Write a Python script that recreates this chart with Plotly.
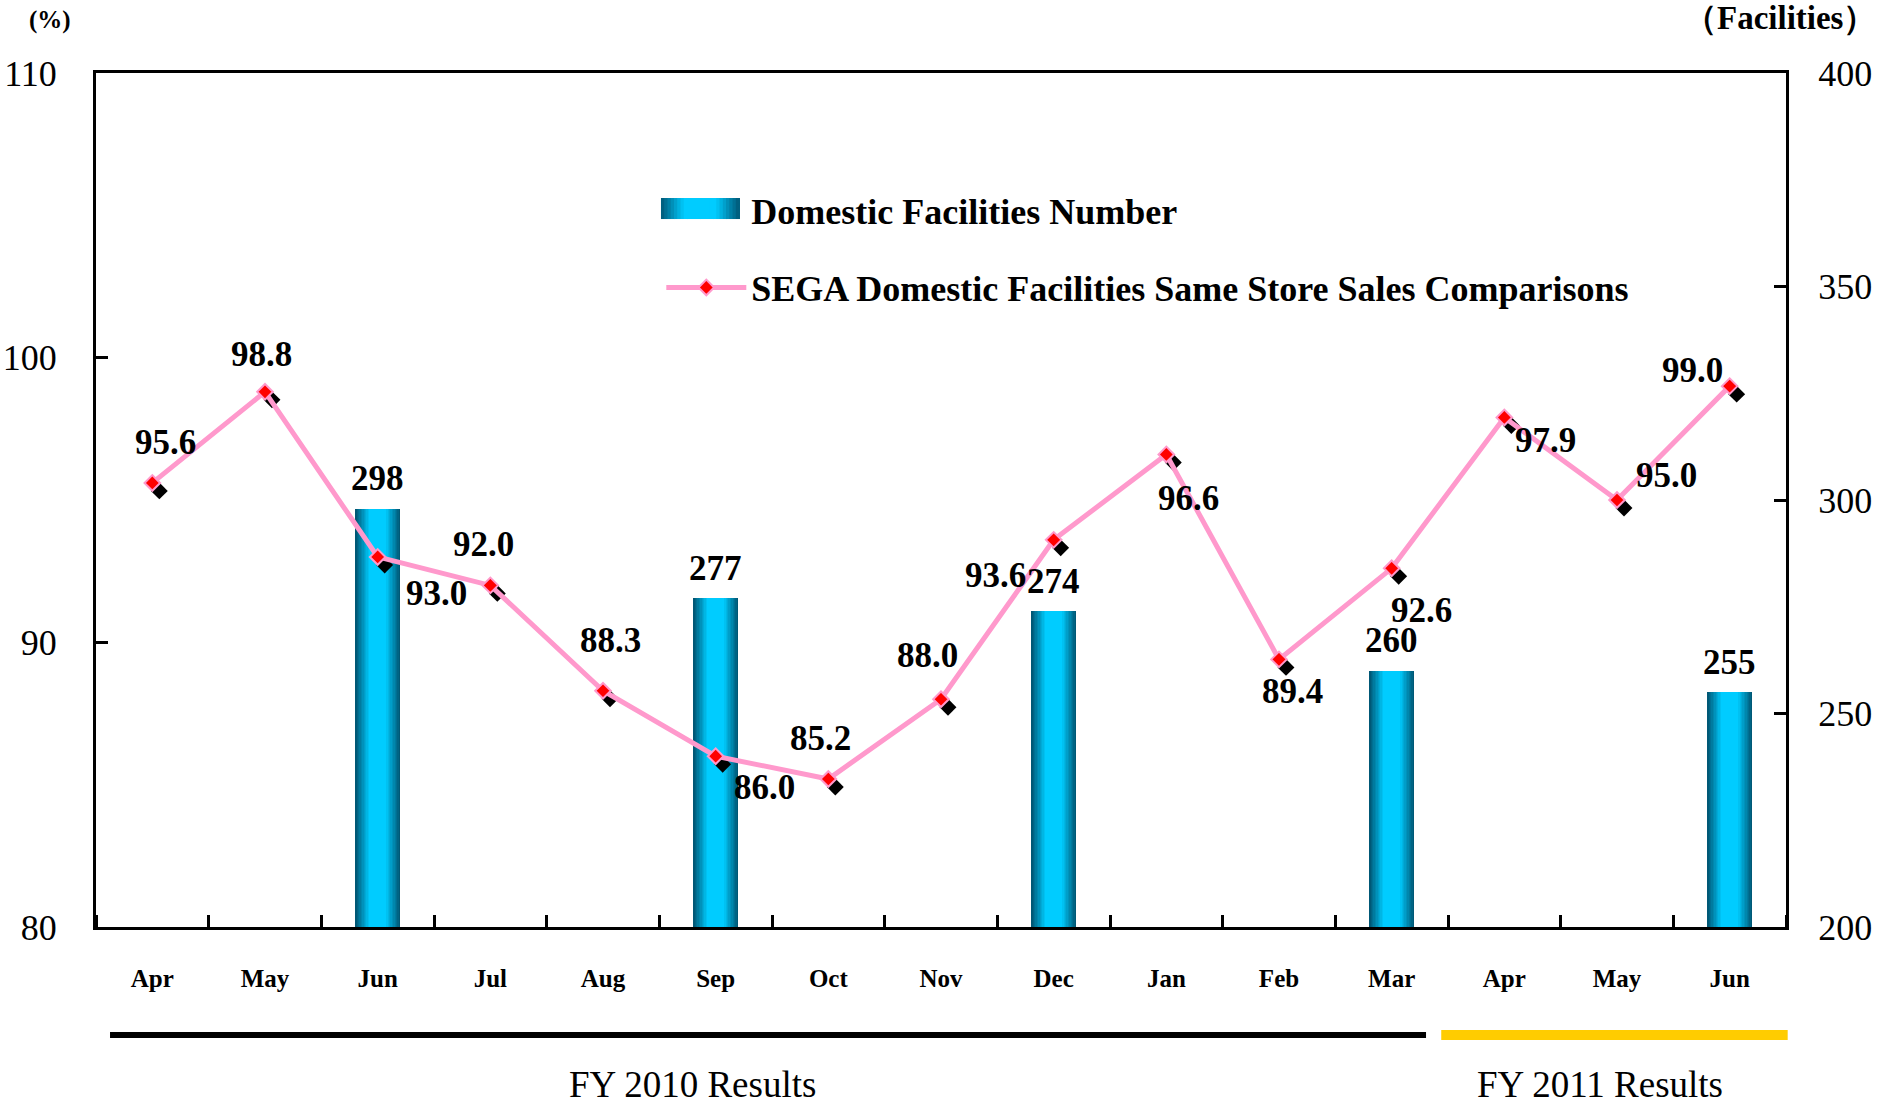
import plotly.graph_objects as go

# ---------------- data ----------------
months = ["Apr", "May", "Jun", "Jul", "Aug", "Sep", "Oct", "Nov", "Dec",
          "Jan", "Feb", "Mar", "Apr", "May", "Jun"]
same_store_sales = [95.6, 98.8, 93.0, 92.0, 88.3, 86.0, 85.2, 88.0, 93.6,
                    96.6, 89.4, 92.6, 97.9, 95.0, 99.0]
facilities = [None, None, 298, None, None, 277, None, None, 274,
              None, None, 260, None, None, 255]
left_ticks = [80, 90, 100, 110]
right_ticks = [200, 250, 300, 350, 400]
fiscal_years = ["FY 2010 Results", "FY 2011 Results"]
bar_name = "Domestic Facilities Number"
line_name = "SEGA Domestic Facilities Same Store Sales Comparisons"

# ---------------- styling ----------------
FONT = "Liberation Serif"
W, H = 1884, 1110
ML, MR, MT, MB = 96, 98, 73, 183
PW, PH = W - ML - MR, H - MT - MB
xs = list(range(len(months)))
XR = [-0.5, len(months) - 0.5]
YL = [left_ticks[0], left_ticks[-1]]
YR = [right_ticks[0], right_ticks[-1]]
BAR_W = 0.40
DARK = (0, 88, 118)
BRIGHT = (0, 204, 255)
PINK = "#FF99CC"


def grad_color(t):
    c = tuple(round(DARK[k] + (BRIGHT[k] - DARK[k]) * t) for k in range(3))
    return "rgb(%d,%d,%d)" % c


# label offsets (px): (xshift, yshift)
line_label_offsets = [(13, 40), (-4, 37), (59, -37), (-7, 41), (7, 50), (49, -31),
                      (-8, 40), (-14, 44), (-58, -36), (22, -44), (13, -32),
                      (30, -42), (41, -23), (49, 25), (-37, 16)]

fig = go.Figure()

# gradient bars built from layered overlay bars
N = 16
for i in range(N):
    t = min(1.0, (i / N) / 0.62)
    fig.add_trace(go.Bar(
        x=xs, y=facilities, width=BAR_W * (1 - i / N),
        marker=dict(color=grad_color(t), line=dict(width=0)),
        name=bar_name, showlegend=False, legendgroup="bars",
        xaxis="x", yaxis="y", hoverinfo="skip" if i else None,
    ))

# legend entry for the bar series (its swatch is painted below as a gradient)
fig.add_trace(go.Scatter(
    x=[None], y=[None], mode="lines", name=bar_name,
    line=dict(color="rgba(0,0,0,0)", width=10), legendgroup="bars",
    xaxis="x", yaxis="y", hoverinfo="skip",
))

# shadow markers (shifted axes)
dx_units = 7 / (PW / (XR[1] - XR[0]))
dy_units = 8 / (PH / (YL[1] - YL[0]))
fig.add_trace(go.Scatter(
    x=xs, y=same_store_sales, mode="markers",
    marker=dict(symbol="diamond", size=13, color="black"),
    showlegend=False, xaxis="x2", yaxis="y2", hoverinfo="skip",
))

# main line
fig.add_trace(go.Scatter(
    x=xs, y=same_store_sales, mode="lines+markers", name=line_name,
    line=dict(color=PINK, width=5),
    marker=dict(symbol="diamond", size=12, color="#FF0000",
                line=dict(color=PINK, width=2)),
    legendgroup="line", xaxis="x3", yaxis="y3",
))

annotations = []
for i, v in enumerate(same_store_sales):
    dx, dy = line_label_offsets[i]
    annotations.append(dict(x=xs[i], y=v, xref="x3", yref="y3", text="%.1f" % v,
                            showarrow=False, xshift=dx, yshift=dy,
                            font=dict(family=FONT, size=35, color="black", weight="bold")))
for i, v in enumerate(facilities):
    if v is None:
        continue
    annotations.append(dict(x=xs[i], y=v, xref="x", yref="y", text=str(v),
                            showarrow=False, yshift=30,
                            font=dict(family=FONT, size=35, color="black", weight="bold")))

# fiscal year labels
fy_centers = [0.353, 0.89]
for txt, cx in zip(fiscal_years, fy_centers):
    annotations.append(dict(x=cx, y=-0.185, xref="paper", yref="paper", text=txt,
                            xanchor="center", yanchor="middle",
                            showarrow=False, font=dict(family=FONT, size=37, color="black")))
annotations.append(dict(x=-0.027, y=1.062, xref="paper", yref="paper", text="(%)",
                        xanchor="center", yanchor="middle",
                        showarrow=False, font=dict(family=FONT, size=25, color="black", weight="bold")))
annotations.append(dict(x=0.9965, y=1.064, xref="paper", yref="paper", text="（Facilities）",
                        xanchor="center", yanchor="middle",
                        showarrow=False, font=dict(family=FONT, size=33, color="black", weight="bold")))

shapes = [
    dict(type="line", xref="paper", yref="paper", x0=0.0083, x1=0.787, y0=-0.1265, y1=-0.1265,
         line=dict(color="black", width=6)),
    dict(type="line", xref="paper", yref="paper", x0=0.796, x1=1.001, y0=-0.1265, y1=-0.1265,
         line=dict(color="#FFCC00", width=10)),
]

# gradient legend swatch for the bar series
SW_X0, SW_X1, SW_Y0, SW_Y1 = 0.3343, 0.3805, 0.8290, 0.8536
NS = 24
sw = (SW_X1 - SW_X0) / NS
for k in range(NS):
    p = (k + 0.5) / NS
    t = min(1.0, (1 - abs(2 * p - 1)) / 0.6)
    shapes.append(dict(type="rect", xref="paper", yref="paper",
                       x0=SW_X0 + k * sw, x1=SW_X0 + (k + 1) * sw + sw * 0.3,
                       y0=SW_Y0, y1=SW_Y1, fillcolor=grad_color(t),
                       line=dict(width=0), layer="above"))

fig.update_layout(
    width=W, height=H,
    margin=dict(l=ML, r=MR, t=MT, b=MB, autoexpand=False),
    paper_bgcolor="white", plot_bgcolor="white",
    barmode="overlay", bargap=0,
    font=dict(family=FONT, color="black"),
    showlegend=True,
    legend=dict(x=0.3345, y=0.875, xanchor="left", yanchor="top",
                bgcolor="rgba(0,0,0,0)", traceorder="grouped", tracegroupgap=28,
                itemwidth=80,
                font=dict(family=FONT, size=36, color="black", weight="bold")),
    annotations=annotations,
    shapes=shapes,
    xaxis=dict(range=XR, tickmode="array", tickvals=xs, ticktext=months,
               ticks="", showline=True, linecolor="black", linewidth=3, mirror=True,
               showgrid=False, zeroline=False, ticklabelstandoff=27, automargin=False,
               tickfont=dict(family=FONT, size=25, color="black", weight="bold"),
               minor=dict(tick0=0.5, dtick=1, ticks="inside", ticklen=12,
                          tickwidth=3, tickcolor="black", showgrid=False)),
    yaxis=dict(range=YR, side="right", tickmode="array", tickvals=right_ticks,
               ticks="inside", ticklen=12, tickwidth=3, tickcolor="black",
               showline=True, linecolor="black", linewidth=3, mirror=True,
               showgrid=False, zeroline=False, ticklabelstandoff=22, automargin=False,
               tickfont=dict(family=FONT, size=36, color="black")),
    xaxis2=dict(range=[XR[0] - dx_units, XR[1] - dx_units], overlaying="x", visible=False,
                automargin=False),
    yaxis2=dict(range=[YL[0] + dy_units, YL[1] + dy_units], overlaying="y", visible=False,
                automargin=False),
    xaxis3=dict(range=XR, overlaying="x", visible=False, automargin=False),
    yaxis3=dict(range=YL, overlaying="y", side="left", tickmode="array", tickvals=left_ticks,
                ticks="inside", ticklen=12, tickwidth=3, tickcolor="black",
                showline=True, linecolor="black", linewidth=3, automargin=False,
                showgrid=False, zeroline=False, ticklabelstandoff=29,
                tickfont=dict(family=FONT, size=36, color="black")),
)

fig.write_html("out.html", config={"displayModeBar": False},
               post_script="document.body.style.margin='0';")
